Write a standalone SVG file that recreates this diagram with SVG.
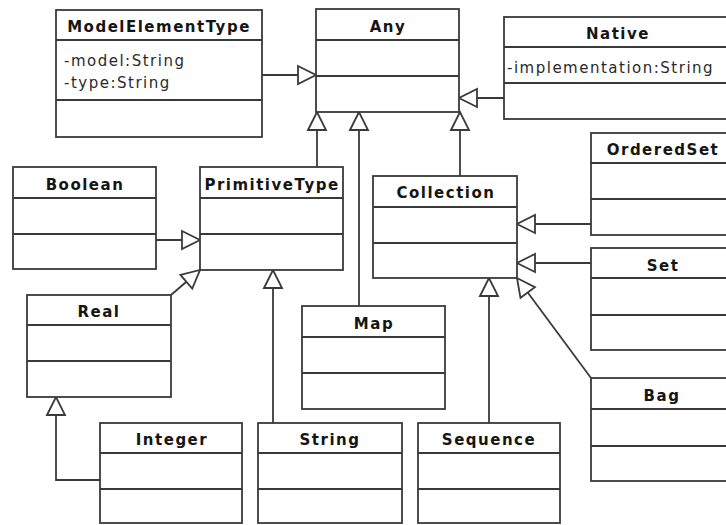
<svg xmlns="http://www.w3.org/2000/svg" width="726" height="525" viewBox="0 0 726 525">
  <style>
    .box { fill: #ffffff; stroke: #3a3a3a; stroke-width: 1.8; }
    .sep { stroke: #3a3a3a; stroke-width: 1.8; }
    .title { font-family: "DejaVu Sans", Verdana, sans-serif; font-weight: bold; font-size: 15px; letter-spacing: 1.5px; fill: #151515; text-anchor: middle; }
    .attr { font-family: "DejaVu Sans", Verdana, sans-serif; font-size: 15px; letter-spacing: 1.5px; fill: #2a2a2a; }
    .link { fill: none; stroke: #3a3a3a; stroke-width: 1.8; marker-end: url(#gen); }
  </style>
  <defs>
    <!-- hollow triangle for generalization -->
    <marker id="gen" markerUnits="userSpaceOnUse" markerWidth="24" markerHeight="24" viewBox="-20 -12 24 24" refX="0" refY="0" orient="auto">
      <path d="M-18,-9 L0,0 L-18,9 Z" fill="#ffffff" stroke="#3a3a3a" stroke-width="1.8" stroke-linejoin="miter"/>
    </marker>
  </defs>

  <rect width="726" height="525" fill="#ffffff"/>

  <g id="connectors">
    <path class="link" d="M262,75 H316"/>
    <path class="link" d="M504,98 H459"/>
    <path class="link" d="M317,167 V112"/>
    <path class="link" d="M359,306 V112"/>
    <path class="link" d="M460,176 V112"/>
    <path class="link" d="M156,240 H200"/>
    <path class="link" d="M171,295 L200,270"/>
    <path class="link" d="M100,480 H56 V397"/>
    <path class="link" d="M273,423 V270"/>
    <path class="link" d="M489,423 V278"/>
    <path class="link" d="M591,224 H517"/>
    <path class="link" d="M591,263 H517"/>
    <path class="link" d="M591,378 L517,278"/>
  </g>

  <g id="ModelElementType">
    <rect class="box" x="56" y="10" width="206" height="127"/>
    <line class="sep" x1="56" y1="40" x2="262" y2="40"/>
    <line class="sep" x1="56" y1="100" x2="262" y2="100"/>
    <text class="title" x="159" y="32">ModelElementType</text>
    <text class="attr" x="64" y="66">-model:String</text>
    <text class="attr" x="64" y="88">-type:String</text>
  </g>

  <g id="Any">
    <rect class="box" x="316" y="9" width="143" height="103"/>
    <line class="sep" x1="316" y1="40" x2="459" y2="40"/>
    <line class="sep" x1="316" y1="76" x2="459" y2="76"/>
    <text class="title" x="388" y="32">Any</text>
  </g>

  <g id="Native">
    <rect class="box" x="504" y="17" width="228" height="102"/>
    <line class="sep" x1="504" y1="47" x2="732" y2="47"/>
    <line class="sep" x1="504" y1="83" x2="732" y2="83"/>
    <text class="title" x="618" y="39">Native</text>
    <text class="attr" x="507" y="73">-implementation:String</text>
  </g>

  <g id="Boolean">
    <rect class="box" x="13" y="167" width="143" height="102"/>
    <line class="sep" x1="13" y1="198" x2="156" y2="198"/>
    <line class="sep" x1="13" y1="234" x2="156" y2="234"/>
    <text class="title" x="85" y="190">Boolean</text>
  </g>

  <g id="PrimitiveType">
    <rect class="box" x="200" y="167" width="143" height="103"/>
    <line class="sep" x1="200" y1="198" x2="343" y2="198"/>
    <line class="sep" x1="200" y1="234" x2="343" y2="234"/>
    <text class="title" x="272" y="190">PrimitiveType</text>
  </g>

  <g id="Collection">
    <rect class="box" x="373" y="176" width="144" height="102"/>
    <line class="sep" x1="373" y1="207" x2="517" y2="207"/>
    <line class="sep" x1="373" y1="243" x2="517" y2="243"/>
    <text class="title" x="446" y="198">Collection</text>
  </g>

  <g id="OrderedSet">
    <rect class="box" x="591" y="133" width="142" height="102"/>
    <line class="sep" x1="591" y1="163" x2="733" y2="163"/>
    <line class="sep" x1="591" y1="199" x2="733" y2="199"/>
    <text class="title" x="663" y="155">OrderedSet</text>
  </g>

  <g id="Set">
    <rect class="box" x="591" y="248" width="142" height="102"/>
    <line class="sep" x1="591" y1="278" x2="733" y2="278"/>
    <line class="sep" x1="591" y1="315" x2="733" y2="315"/>
    <text class="title" x="663" y="271">Set</text>
  </g>

  <g id="Real">
    <rect class="box" x="27" y="295" width="144" height="102"/>
    <line class="sep" x1="27" y1="325" x2="171" y2="325"/>
    <line class="sep" x1="27" y1="361" x2="171" y2="361"/>
    <text class="title" x="99" y="317">Real</text>
  </g>

  <g id="Map">
    <rect class="box" x="302" y="306" width="143" height="103"/>
    <line class="sep" x1="302" y1="337" x2="445" y2="337"/>
    <line class="sep" x1="302" y1="373" x2="445" y2="373"/>
    <text class="title" x="374" y="329">Map</text>
  </g>

  <g id="Bag">
    <rect class="box" x="591" y="378" width="142" height="103"/>
    <line class="sep" x1="591" y1="409" x2="733" y2="409"/>
    <line class="sep" x1="591" y1="446" x2="733" y2="446"/>
    <text class="title" x="662" y="401">Bag</text>
  </g>

  <g id="Integer">
    <rect class="box" x="100" y="423" width="142" height="100"/>
    <line class="sep" x1="100" y1="453" x2="242" y2="453"/>
    <line class="sep" x1="100" y1="489" x2="242" y2="489"/>
    <text class="title" x="172" y="445">Integer</text>
  </g>

  <g id="String">
    <rect class="box" x="258" y="423" width="144" height="100"/>
    <line class="sep" x1="258" y1="453" x2="402" y2="453"/>
    <line class="sep" x1="258" y1="489" x2="402" y2="489"/>
    <text class="title" x="330" y="445">String</text>
  </g>

  <g id="Sequence">
    <rect class="box" x="418" y="423" width="142" height="100"/>
    <line class="sep" x1="418" y1="453" x2="560" y2="453"/>
    <line class="sep" x1="418" y1="489" x2="560" y2="489"/>
    <text class="title" x="489" y="445">Sequence</text>
  </g>
</svg>
